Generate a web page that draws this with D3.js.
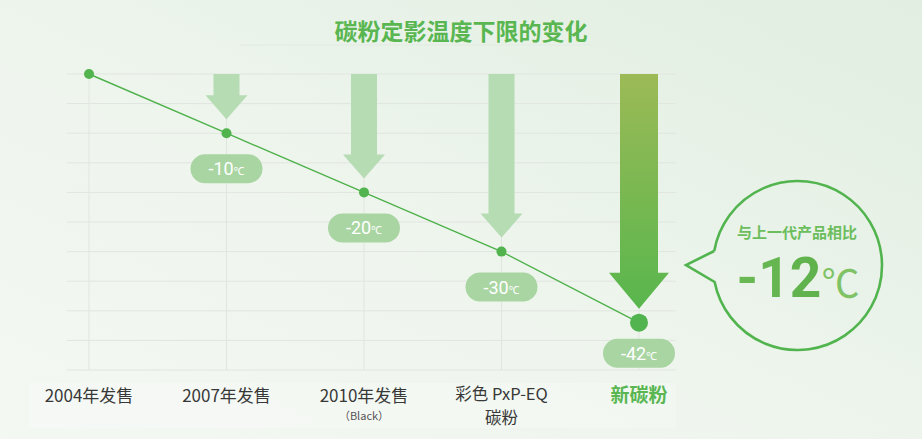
<!DOCTYPE html>
<html>
<head>
<meta charset="utf-8">
<script src="https://cdn.jsdelivr.net/npm/d3@7"></script>
<style>
  html, body { margin: 0; padding: 0; }
  body { width: 922px; height: 439px; overflow: hidden; }
  svg { display: block; font-family: "Noto Sans CJK SC", "Noto Sans", sans-serif; }
</style>
</head>
<body>
<svg id="chart"></svg>
<script>
const title = "碳粉定影温度下限的变化";
const categories = ["2004年发售", "2007年发售", "2010年发售", "彩色 PxP-EQ 碳粉", "新碳粉"];
const labelLines = [["2004年发售"], ["2007年发售"], ["2010年发售"], ["彩色 PxP-EQ", "碳粉"], ["新碳粉"]];
const subLabels = ["", "", "（Black）", "", ""];
const temps = [0, -10, -20, -30, -42];
const yTicks = [0, -5, -10, -15, -20, -25, -30, -35, -40, -45, -50];
const bubbleHead = "与上一代产品相比";
const bubbleValue = "-12";

const width = 922, height = 439;

const svg = d3.select("#chart")
    .attr("width", width)
    .attr("height", height);

const defs = svg.append("defs");

const bg = defs.append("linearGradient")
    .attr("id", "bg")
    .attr("x1", 0).attr("y1", 1).attr("x2", 1).attr("y2", 0);
bg.append("stop").attr("offset", "0%").attr("stop-color", "#f4f8f3");
bg.append("stop").attr("offset", "45%").attr("stop-color", "#eef5ed");
bg.append("stop").attr("offset", "100%").attr("stop-color", "#e1eee1");

const arrowGrad = defs.append("linearGradient")
    .attr("id", "arrowGrad")
    .attr("x1", 0).attr("y1", 0).attr("x2", 0).attr("y2", 1);
arrowGrad.append("stop").attr("offset", "0%").attr("stop-color", "#9cba56");
arrowGrad.append("stop").attr("offset", "100%").attr("stop-color", "#58b64d");

const numGrad = defs.append("linearGradient")
    .attr("id", "numGrad")
    .attr("x1", 0).attr("y1", 0).attr("x2", 1).attr("y2", 0);
numGrad.append("stop").attr("offset", "0%").attr("stop-color", "#6ab955");
numGrad.append("stop").attr("offset", "100%").attr("stop-color", "#5aae48");

svg.append("rect")
    .attr("width", width)
    .attr("height", height)
    .attr("fill", "url(#bg)");

// title
svg.append("line")
    .attr("x1", 240).attr("x2", 592)
    .attr("y1", 45).attr("y2", 45)
    .attr("stroke", "#e3eae2")
    .attr("stroke-width", 1);

svg.append("text")
    .attr("x", 461)
    .attr("y", 40)
    .attr("text-anchor", "middle")
    .attr("font-size", 23)
    .attr("font-weight", "bold")
    .attr("fill", "#59b651")
    .text(title);

const x = d3.scalePoint()
    .domain(categories)
    .range([89, 639]);

const y = d3.scaleLinear()
    .domain([0, -50])
    .range([74, 370]);

// label band
svg.append("rect")
    .attr("x", 29).attr("y", 383)
    .attr("width", 647).attr("height", 45)
    .attr("fill", "#ffffff")
    .attr("opacity", 0.22);

// grid
svg.append("g")
    .selectAll("line")
    .data(yTicks)
    .join("line")
    .attr("x1", 67).attr("x2", 676)
    .attr("y1", d => y(d)).attr("y2", d => y(d))
    .attr("stroke", "#e1e5e0")
    .attr("stroke-width", 1);

svg.append("g")
    .selectAll("line")
    .data(categories)
    .join("line")
    .attr("x1", d => x(d)).attr("x2", d => x(d))
    .attr("y1", y(0)).attr("y2", y(-50))
    .attr("stroke", "#e1e5e0")
    .attr("stroke-width", 1);

// arrows
const arrowData = categories.map((c, i) => ({c, v: temps[i], i})).filter(d => d.i > 0);
const isLast = d => d.i === categories.length - 1;

svg.append("g")
    .selectAll("path")
    .data(arrowData)
    .join("path")
    .attr("d", d => {
        const cx = x(d.c);
        const tip = y(d.v) - 14;
        const top = y(0);
        const sw = isLast(d) ? 19 : 13;
        const hw = isLast(d) ? 30 : 21;
        const hh = isLast(d) ? 36 : 24;
        return `M${cx - sw},${top}H${cx + sw}V${tip - hh}H${cx + hw}L${cx},${tip}L${cx - hw},${tip - hh}H${cx - sw}Z`;
    })
    .attr("fill", d => isLast(d) ? "url(#arrowGrad)" : "#b6dcb4");

// line
svg.append("path")
    .datum(temps)
    .attr("d", d3.line()
        .x((d, i) => x(categories[i]))
        .y(d => y(d)))
    .attr("fill", "none")
    .attr("stroke", "#4eb14b")
    .attr("stroke-width", 1.4);

svg.append("g")
    .selectAll("circle")
    .data(temps)
    .join("circle")
    .attr("cx", (d, i) => x(categories[i]))
    .attr("cy", d => y(d))
    .attr("r", (d, i) => i === temps.length - 1 ? 9 : 5)
    .attr("fill", "#52b44e");

// value labels
const lab = svg.append("g")
    .selectAll("g")
    .data(arrowData)
    .join("g")
    .attr("transform", d => `translate(${x(d.c)},${y(d.v) + (isLast(d) ? 16 : 21)})`);

lab.append("rect")
    .attr("x", -36).attr("y", 0)
    .attr("width", 72).attr("height", 29)
    .attr("rx", 14.5)
    .attr("fill", "#a9d5a2");

const lt = lab.append("text")
    .attr("x", 0)
    .attr("y", 21)
    .attr("text-anchor", "middle")
    .attr("fill", "#ffffff")
    .attr("font-family", "Roboto, 'Noto Sans', sans-serif");
lt.append("tspan").attr("font-size", 18).text(d => d.v);
lt.append("tspan").attr("font-size", 11).text("℃");

// x labels
const xl = svg.append("g")
    .selectAll("g")
    .data(categories)
    .join("g")
    .attr("transform", d => `translate(${x(d)},0)`);

xl.each(function(d, i) {
    const g = d3.select(this);
    const last = i === categories.length - 1;
    const lines = labelLines[i];
    lines.forEach((s, k) => {
        g.append("text")
            .attr("y", lines.length > 1 ? 400 + k * 24 : 402)
            .attr("text-anchor", "middle")
            .attr("font-size", last ? 19 : (lines.length > 1 ? 16.5 : 17))
            .attr("font-weight", last ? "bold" : "normal")
            .attr("fill", last ? "#59b651" : "#383838")
            .text(s);
    });
    if (subLabels[i]) {
        g.append("text")
            .attr("y", 420)
            .attr("text-anchor", "middle")
            .attr("font-size", 11)
            .attr("fill", "#555555")
            .text(subLabels[i]);
    }
});

// speech bubble
const bx = 797.5, by = 265.5, br = 84.5;
const a1 = Math.asin((251 - by) / br), a2 = Math.asin((282 - by) / br);
const p1 = [bx - br * Math.cos(a1), 251];
const p2 = [bx - br * Math.cos(a2), 282];
const bubble = d3.path();
bubble.moveTo(p1[0], p1[1]);
bubble.lineTo(686, 265);
bubble.lineTo(p2[0], p2[1]);
bubble.arc(bx, by, br, Math.PI - a2, Math.PI - a1 + 2 * Math.PI, true);
svg.append("path")
    .attr("d", bubble.toString())
    .attr("fill", "none")
    .attr("stroke", "#52b44e")
    .attr("stroke-width", 2.6)
    .attr("stroke-linejoin", "miter");

svg.append("text")
    .attr("x", 797)
    .attr("y", 238)
    .attr("text-anchor", "middle")
    .attr("font-size", 15)
    .attr("font-weight", "bold")
    .attr("fill", "#6cbd5c")
    .text(bubbleHead);

const big = svg.append("text")
    .attr("x", 798)
    .attr("y", 297)
    .attr("text-anchor", "middle")
    .attr("font-family", "Roboto, 'Noto Sans', sans-serif");
big.append("tspan")
    .attr("font-size", 55)
    .attr("font-weight", "bold")
    .attr("fill", "url(#numGrad)")
    .text(bubbleValue);
big.append("tspan")
    .attr("font-size", 38)
    .attr("fill", "#80c367")
    .attr("font-family", "'Noto Sans CJK SC', sans-serif")
    .text("℃");
</script>
</body>
</html>
